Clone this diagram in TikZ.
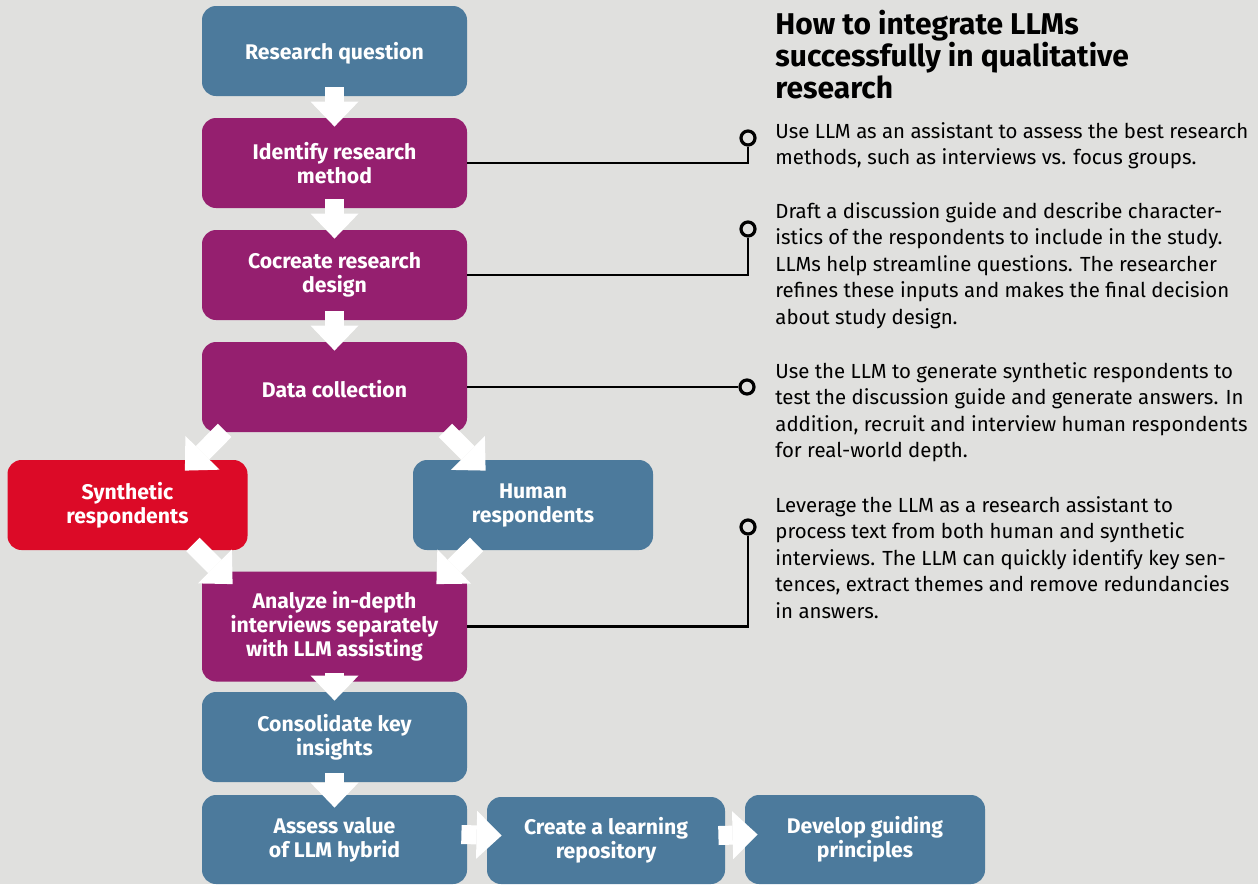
\documentclass[tikz,border=0pt]{standalone}
\usepackage{fontspec}
\setmainfont{Fira Sans}
\usetikzlibrary{arrows.meta}
\definecolor{bg}{HTML}{E0E0DE}
\definecolor{boxblue}{HTML}{4C7A9C}
\definecolor{boxpurple}{HTML}{951F6F}
\definecolor{boxred}{HTML}{DC0A27}
\begin{document}
\begin{tikzpicture}[x=0.5pt,y=-0.5pt,
  box/.style={rounded corners=7pt, text=white, align=center,
    font=\bfseries\fontsize{10.6}{12}\selectfont, inner sep=0pt,
    minimum width=132.5pt, minimum height=45pt,
    execute at begin node={\rule{0pt}{10.5pt}}},
  bluebox/.style={box, fill=boxblue},
  purplebox/.style={box, fill=boxpurple},
  redbox/.style={box, fill=boxred},
  flow/.style={draw=white, line width=9.5pt,
    -{Triangle[width=24pt,length=12.5pt,line width=0pt]}},
  conn/.style={draw=black, line width=1.2pt},
  dot/.style={circle, draw=black, line width=1.6pt, fill=bg,
    minimum size=7pt, inner sep=0pt},
  para/.style={anchor=north west, inner sep=0pt, align=left,
    font=\fontsize{10.2}{13.25}\selectfont}
]
\fill[bg] (0,0) rectangle (1258,884);
\useasboundingbox (0,0) rectangle (1258,884);

% boxes
\node[bluebox]   (rq)  at (334.5,51)    {Research question};
\node[purplebox] (irm) at (334.5,163)   {Identify research\\method};
\node[purplebox] (ccd) at (334.5,275)   {Cocreate research\\design};
\node[purplebox] (dc)  at (334.5,387)   {Data collection};
\node[redbox, minimum width=120pt]  (syn) at (127.5,505) {Synthetic\\respondents};
\node[bluebox, minimum width=120pt] (hum) at (533,505)   {Human\\respondents};
\node[purplebox, minimum height=55pt] (an) at (334.5,626.5) {Analyze in-depth\\interviews separately\\with LLM assisting};
\node[bluebox]   (cki) at (334.5,737)   {Consolidate key\\insights};
\node[bluebox, minimum height=44.5pt] (av) at (334.5,839.5) {Assess value\\of LLM hybrid};
\node[bluebox, minimum width=119pt, minimum height=43.5pt] (clr) at (606,840.5) {Create a learning\\repository};
\node[bluebox, minimum width=120pt, minimum height=44.5pt] (dgp) at (865,839.5) {Develop guiding\\principles};

% white flow arrows
\draw[flow] ([shift={(0,-9)}]rq.south)  -- ([shift={(0,9)}]irm.north);
\draw[flow] ([shift={(0,-9)}]irm.south) -- ([shift={(0,9)}]ccd.north);
\draw[flow] ([shift={(0,-9)}]ccd.south) -- ([shift={(0,9)}]dc.north);
\draw[flow] ([shift={(23,-2)}]dc.south west) -- ([shift={(-63,11)}]syn.north east);
\draw[flow] ([shift={(-22,-2)}]dc.south east) -- ([shift={(73,11)}]hum.north west);
\draw[flow] ([shift={(-55,-6)}]syn.south east) -- ([shift={(31,13)}]an.north west);
\draw[flow] ([shift={(64,-6)}]hum.south west) -- ([shift={(-31,13)}]an.north east);
\draw[flow] ([shift={(0,-9)}]an.south)  -- ([shift={(0,9)}]cki.north);
\draw[flow] ([shift={(0,-9)}]cki.south) -- ([shift={(0,13)}]av.north);
\draw[flow] ([shift={(-6,-5)}]av.east)  -- ([shift={(15,-5)}]clr.west);
\draw[flow] ([shift={(-7,-5)}]clr.east) -- ([shift={(13,-5)}]dgp.west);

% title and texts
\node[anchor=north west, inner sep=0pt, align=left,
  font=\bfseries\fontsize{15}{16}\selectfont] (title) at (775,10)
  {How to integrate LLMs\\successfully in qualitative\\research};
\node[para] (p1) at (775,122) {Use LLM as an assistant to assess the best research\\methods, such as interviews vs. focus groups.};
\node[para] (p2) at (775,202) {Draft a discussion guide and describe character-\\istics of the respondents to include in the study.\\LLMs help streamline questions. The researcher\\refines these inputs and makes the final decision\\about study design.};
\node[para] (p3) at (775,362) {Use the LLM to generate synthetic respondents to\\test the discussion guide and generate answers. In\\addition, recruit and interview human respondents\\for real-world depth.};
\node[para] (p4) at (775,496) {Leverage the LLM as a research assistant to\\process text from both human and synthetic\\interviews. The LLM can quickly identify key sen-\\tences, extract themes and remove redundancies\\in answers.};

% connectors with circles
\node[dot] (c1) at (748,138) {};
\node[dot] (c2) at (748,229) {};
\node[dot] (c3) at (747,387) {};
\node[dot] (c4) at (748,527) {};
\draw[conn] (irm.east) -| (c1.south);
\draw[conn] (ccd.east) -| (c2.south);
\draw[conn] (dc.east) -- (c3.west);
\draw[conn] (an.east) -| (c4.south);
\end{tikzpicture}
\end{document}
